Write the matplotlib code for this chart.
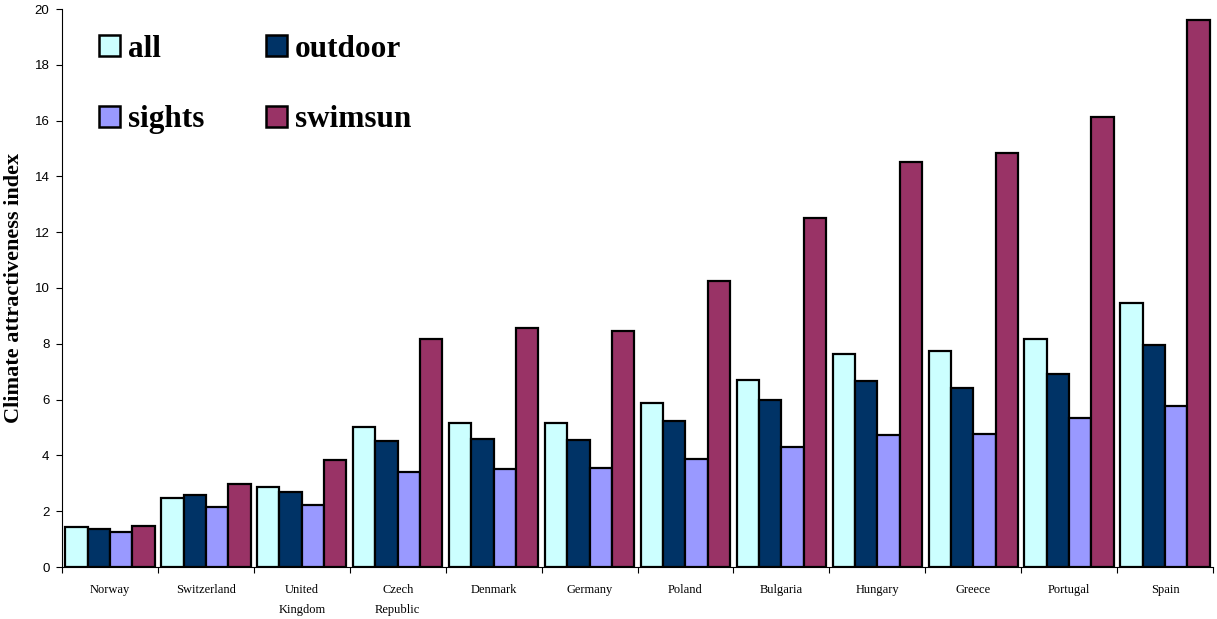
import matplotlib
matplotlib.use("Agg")
import matplotlib.pyplot as plt
from matplotlib.patches import Patch
import numpy as np

countries = ["Norway", "Switzerland", "United\nKingdom", "Czech\nRepublic", "Denmark",
             "Germany", "Poland", "Bulgaria", "Hungary", "Greece", "Portugal", "Spain"]
all_vals = [1.45, 2.46, 2.88, 5.01, 5.15, 5.17, 5.89, 6.71, 7.63, 7.75, 8.17, 9.47]
outdoor_vals = [1.36, 2.57, 2.69, 4.52, 4.59, 4.56, 5.24, 5.99, 6.67, 6.40, 6.91, 7.95]
sights_vals = [1.27, 2.15, 2.22, 3.42, 3.51, 3.54, 3.87, 4.30, 4.72, 4.78, 5.34, 5.77]
swimsun_vals = [1.47, 2.96, 3.82, 8.16, 8.57, 8.47, 10.26, 12.50, 14.51, 14.85, 16.12, 19.59]

series = [
    ("all", all_vals, "#CCFFFF"),
    ("outdoor", outdoor_vals, "#003366"),
    ("sights", sights_vals, "#9999FF"),
    ("swimsun", swimsun_vals, "#993366"),
]

fig = plt.figure(figsize=(12.17, 6.19), dpi=100)
ax = fig.add_axes([62 / 1217, 52 / 619, 1151 / 1217, 558 / 619])

x = np.arange(len(countries))
bw = 0.233
for i, (name, vals, color) in enumerate(series):
    ax.bar(x + (i - 1.5) * bw, vals, width=bw, color=color,
           edgecolor="black", linewidth=1.6, label=name, zorder=2)

ax.set_xlim(-0.5, len(countries) - 0.5)
ax.set_ylim(0, 20)
ax.set_yticks(np.arange(0, 21, 2))
ax.tick_params(axis="y", direction="out", length=4, width=0.8, labelsize=9.5, pad=5)
for lab in ax.get_yticklabels():
    lab.set_fontfamily("Liberation Sans")

# group boundaries carry the tick marks, centres carry the names
ax.set_xticks(np.arange(-0.5, len(countries), 1.0))
ax.set_xticklabels([])
ax.set_xticks(x, minor=True)
ax.set_xticklabels(countries, minor=True, fontfamily="Liberation Serif", fontsize=9,
                   linespacing=1.9)
ax.tick_params(axis="x", which="major", direction="out", length=4, width=0.8)
ax.tick_params(axis="x", which="minor", length=0, pad=12)

for s in ("top", "right"):
    ax.spines[s].set_visible(False)
for s in ("left", "bottom"):
    ax.spines[s].set_linewidth(0.8)

ax.set_ylabel("Climate attractiveness index", fontfamily="Liberation Serif",
              fontweight="bold", fontsize=16, labelpad=8)

handles = [Patch(facecolor=c, edgecolor="black", linewidth=1.8) for _, _, c in series]
names = [n for n, _, _ in series]
order = [0, 2, 1, 3]
ax.legend([handles[k] for k in order], [names[k] for k in order], ncol=2,
          frameon=False, loc="upper left", bbox_to_anchor=(0.032, 0.954),
          borderaxespad=0, borderpad=0,
          prop={"family": "Liberation Serif", "weight": "bold", "size": 22.5},
          handlelength=0.67, handleheight=0.67, handletextpad=0.25,
          columnspacing=2.0, labelspacing=1.33)

fig.savefig("out.png", dpi=100)
